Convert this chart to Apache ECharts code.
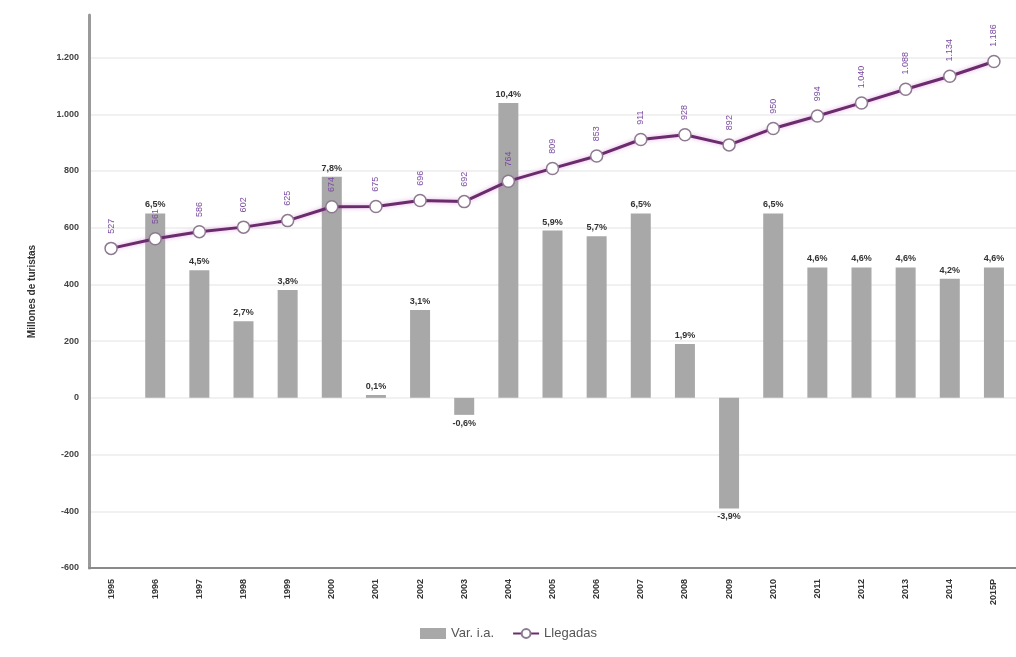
<!DOCTYPE html>
<html>
<head>
<meta charset="utf-8">
<script src="https://cdn.jsdelivr.net/npm/echarts@6/dist/echarts.min.js"></script>
<style>
html,body{margin:0;padding:0;background:#fff;}
#chart{width:1016px;height:657px;}
</style>
</head>
<body>
<div id="chart"></div>
<script>
// ---- Data ----
const years = ['1995','1996','1997','1998','1999','2000','2001','2002','2003','2004','2005','2006','2007','2008','2009','2010','2011','2012','2013','2014','2015P'];
const llegadas = [527,561,586,602,625,674,675,696,692,764,809,853,911,928,892,950,994,1040,1088,1134,1186];
const varIA = [null,6.5,4.5,2.7,3.8,7.8,0.1,3.1,-0.6,10.4,5.9,5.7,6.5,1.9,-3.9,6.5,4.6,4.6,4.6,4.2,4.6];
const yTicks = [-600,-400,-200,0,200,400,600,800,1000,1200];

const FONT = "'Liberation Sans Narrow','Liberation Sans',Arial,sans-serif";
function fmtThousands(v){
  const s = String(Math.round(Math.abs(v)));
  const t = s.replace(/\B(?=(\d{3})+(?!\d))/g, '.');
  return (v < 0 ? '-' : '') + t;
}
function fmtPct(v){ return String(v.toFixed(1)).replace('.', ',') + '%'; }

const barData = varIA.map(v => {
  if (v === null) return {value: null};
  return {
    value: v,
    label: { position: v < 0 ? 'bottom' : 'top' }
  };
});

// grid line colours: one per tick line, the extra top line (axis extension) transparent
const gridColors = yTicks.map(() => '#ececec').concat(['rgba(0,0,0,0)']);

const chart = echarts.init(document.getElementById('chart'), null, {renderer:'canvas'});
chart.setOption({
  backgroundColor: '#ffffff',
  animation: false,
  textStyle: { fontFamily: FONT },
  grid: { left: 89, width: 932, top: 15, bottom: 89, containLabel: false },
  legend: {
    bottom: 12,
    left: 415,
    itemGap: 18,
    itemWidth: 26,
    itemHeight: 11,
    textStyle: { color: '#555', fontSize: 13, fontFamily: FONT },
    data: [
      { name: 'Var. i.a.', icon: 'rect' },
      { name: 'Llegadas' }
    ]
  },
  xAxis: {
    type: 'category',
    data: years,
    boundaryGap: true,
    axisLine: { onZero: false, lineStyle: { color: '#8a8a8a', width: 2 } },
    axisTick: { show: false },
    axisLabel: {
      rotate: 90,
      margin: 11,
      interval: 0,
      fontSize: 9,
      fontWeight: 'bold',
      color: '#333',
      fontFamily: FONT
    },
    splitLine: { show: false }
  },
  yAxis: [
    {
      type: 'value',
      min: yTicks[0],
      max: 1350,
      interval: 200,
      name: 'Millones de turistas',
      nameLocation: 'middle',
      nameGap: 52,
      nameTextStyle: { color: '#333', fontSize: 10, fontWeight: 'bold', fontFamily: FONT },
      axisLine: { show: true, lineStyle: { color: '#9a9a9a', width: 3 } },
      axisTick: { show: false },
      axisLabel: {
        margin: 10,
        fontSize: 9,
        fontWeight: 'bold',
        color: '#444',
        fontFamily: FONT,
        formatter: v => (yTicks.indexOf(v) >= 0 ? fmtThousands(v) : '')
      },
      splitLine: { show: true, lineStyle: { color: gridColors, width: 1.5 } }
    },
    {
      type: 'value',
      min: yTicks[0] / 100,
      max: 13.5,
      interval: 2,
      show: false,
      splitLine: { show: false }
    }
  ],
  series: [
    {
      name: 'Var. i.a.',
      type: 'bar',
      yAxisIndex: 1,
      data: barData,
      barWidth: 20,
      itemStyle: { color: '#a8a8a8' },
      label: {
        show: true,
        distance: 4,
        fontSize: 9,
        fontWeight: 'bold',
        color: '#333',
        fontFamily: FONT,
        formatter: p => (p.value === null || p.value === undefined ? '' : fmtPct(p.value))
      },
      z: 2
    },
    {
      name: 'Llegadas',
      type: 'line',
      yAxisIndex: 0,
      data: llegadas,
      symbol: 'circle',
      symbolSize: 12,
      lineStyle: { color: '#6a2c6c', width: 3, shadowColor: 'rgba(210,120,210,0.6)', shadowBlur: 4 },
      itemStyle: { color: '#ffffff', borderColor: '#8e7a90', borderWidth: 1.5 },
      label: {
        show: true,
        position: 'top',
        rotate: 90,
        distance: 8,
        align: 'left',
        verticalAlign: 'middle',
        fontSize: 9,
        color: '#7a4aa0',
        fontFamily: FONT,
        formatter: p => fmtThousands(p.value)
      },
      z: 3
    }
  ]
});
</script>
</body>
</html>
